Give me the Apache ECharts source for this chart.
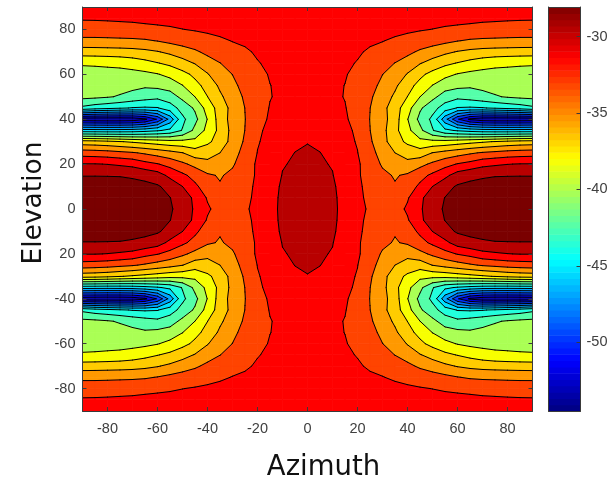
<!DOCTYPE html>
<html><head><meta charset="utf-8">
<style>html,body{margin:0;padding:0;background:#fff}#c{width:614px;height:480px}</style>
<script src="https://cdn.jsdelivr.net/npm/echarts@6/dist/echarts.min.js"></script>
</head><body><div id="c"></div>
<script>
// Quadrant; columns are |azimuth| 90,85,...,0, rows are |elevation| 0,5,...,90
const quadrantAz = [90,85,80,75,70,65,60,55,50,45,40,35,30,25,20,15,10,5,0];
const quadrantEl = [0,5,10,15,20,25,30,35,40,45,50,55,60,65,70,75,80,85,90];
const quadrantValues = [
[-28.1,-28.1,-28.15,-28.2,-28.4,-28.7,-29.1,-29.5,-30.3,-31.6,-32.8,-33.7,-34.1,-33.3,-32.5,-31.9,-31.0,-30.6,-30.5],
[-28.2,-28.2,-28.25,-28.35,-28.55,-28.85,-29.3,-29.65,-30.5,-31.7,-33.2,-34.0,-34.35,-33.5,-32.6,-32.0,-31.0,-30.75,-30.65],
[-28.8,-28.8,-28.85,-28.95,-29.15,-29.3,-29.5,-30.2,-31.35,-32.7,-33.9,-34.6,-34.5,-33.6,-32.7,-32.1,-31.1,-30.95,-30.85],
[-29.75,-29.75,-29.76,-29.78,-29.9,-30.1,-30.6,-31.8,-32.7,-33.6,-34.5,-34.85,-34.4,-33.65,-32.85,-32.2,-31.3,-31.15,-31.05],
[-31.3,-31.3,-31.4,-31.6,-31.85,-32.5,-32.95,-33.6,-34.4,-35.2,-35.9,-35.8,-34.9,-33.9,-32.8,-32.3,-31.45,-31.2,-31.12],
[-33.8,-33.9,-34.05,-34.3,-34.55,-34.95,-35.4,-35.85,-36.35,-37.3,-37.1,-36.4,-35.2,-34.3,-33.0,-32.4,-31.85,-31.33,-31.25],
[-37.4,-37.5,-37.7,-38.0,-38.3,-38.6,-38.9,-39.2,-39.3,-39.3,-38.4,-37.4,-35.8,-34.5,-33.15,-32.6,-32.1,-31.7,-31.39],
[-45.75,-45.8,-45.85,-45.8,-45.7,-45.4,-45.0,-44.4,-43.0,-41.0,-39.3,-37.6,-35.9,-34.7,-33.25,-32.75,-32.3,-32.0,-31.9],
[-54.3,-54.4,-54.45,-54.45,-54.3,-53.5,-51.3,-47.5,-43.5,-41.9,-39.7,-37.3,-35.8,-34.75,-33.6,-32.85,-32.6,-32.4,-32.3],
[-43.5,-44.0,-44.3,-44.6,-44.9,-45.0,-44.9,-43.9,-42.5,-41.2,-39.1,-37.3,-35.9,-34.7,-33.7,-32.97,-32.5,-32.35,-32.3],
[-41.0,-41.1,-41.3,-41.6,-42.0,-42.4,-42.7,-42.2,-41.0,-39.75,-38.1,-36.7,-35.5,-34.5,-33.45,-33.09,-32.8,-32.5,-32.45],
[-40.4,-40.5,-40.6,-40.8,-41.0,-41.2,-41.0,-40.7,-39.8,-38.6,-37.5,-36.1,-35.1,-34.2,-33.4,-33.06,-32.8,-32.55,-32.5],
[-40.3,-40.3,-40.3,-40.35,-40.3,-40.15,-39.85,-39.3,-38.6,-37.7,-36.5,-35.5,-34.7,-33.9,-33.4,-32.95,-32.65,-32.55,-32.5],
[-39.6,-39.55,-39.45,-39.3,-39.0,-38.6,-38.15,-37.7,-37.0,-36.3,-35.5,-34.75,-34.1,-33.55,-33.1,-32.85,-32.65,-32.55,-32.5],
[-37.24,-37.2,-37.15,-37.1,-37.0,-36.8,-36.5,-36.05,-35.55,-35.0,-34.3,-33.8,-33.4,-33.2,-32.9,-32.75,-32.65,-32.55,-32.5],
[-35.14,-35.13,-35.1,-35.05,-35.0,-34.9,-34.65,-34.3,-33.95,-33.65,-33.4,-33.2,-33.0,-32.85,-32.75,-32.7,-32.6,-32.55,-32.5],
[-33.7,-33.7,-33.65,-33.6,-33.55,-33.4,-33.3,-33.2,-33.06,-32.95,-32.85,-32.75,-32.7,-32.65,-32.6,-32.55,-32.55,-32.5,-32.5],
[-32.9,-32.88,-32.85,-32.8,-32.75,-32.7,-32.65,-32.6,-32.55,-32.55,-32.5,-32.5,-32.5,-32.5,-32.5,-32.5,-32.5,-32.5,-32.5],
[-32.6,-32.6,-32.58,-32.55,-32.52,-32.5,-32.5,-32.48,-32.48,-32.45,-32.45,-32.45,-32.45,-32.45,-32.45,-32.45,-32.45,-32.45,-32.45]
];
const contourLevels = [-53.2,-51.52,-49.84,-48.16,-46.48,-44.8,-43.12,-41.44,-39.76,-38.08,-36.4,-34.72,-33.04,-31.36,-29.68];
const bandColors = ['#00009f','#0000e0','#0030ff','#0070ff','#00a8ff','#00e0ff','#22ffdd','#55ffaa','#aaff55','#f8ff00','#ffcc00','#ff9900','#ff4400','#ff0000','#b80000','#7a0000'];
const xTicks = [-80,-60,-40,-20,0,20,40,60,80];
const yTicks = [80,60,40,20,0,-20,-40,-60,-80];
const yTickLabels = ['80','60','40','20','0','20','-40','-60','-80'];
const barTicks = [-50,-45,-40,-35,-30];
const barMin = -54.5, barMax = -28.06;
const barSteps = 64;

// Mirror the quadrant into the full azimuth/elevation grid
const azAxis = quadrantAz.map(a=>-a).concat(quadrantAz.slice(0,-1).reverse());
const elAxis = quadrantEl.slice(1).reverse().map(e=>-e).concat(quadrantEl);
function gridValue(i,j){
  const ci = azAxis[i]<=0 ? i : azAxis.length-1-i;
  const ri = Math.abs(elAxis[j])/5;
  return quadrantValues[ri][ci];
}
const cells=[];
for(let j=0;j<elAxis.length-1;j++)for(let i=0;i<azAxis.length-1;i++){
  cells.push([azAxis[i],elAxis[j],azAxis[i+1],elAxis[j+1],gridValue(i,j),gridValue(i+1,j),gridValue(i+1,j+1),gridValue(i,j+1)]);
}
function clipPoly(p,level,keepAbove){
  const out=[];
  for(let i=0;i<p.length;i++){
    const a=p[i],b=p[(i+1)%p.length];
    const ia=keepAbove?a[2]>=level:a[2]<=level, ib=keepAbove?b[2]>=level:b[2]<=level;
    if(ia)out.push(a);
    if(ia!==ib){const t=(level-a[2])/(b[2]-a[2]);out.push([a[0]+t*(b[0]-a[0]),a[1]+t*(b[1]-a[1]),level]);}
  }
  return out;
}
function cellCorners(api){
  const x0=api.value(0),y0=api.value(1),x1=api.value(2),y1=api.value(3);
  return [[x0,y0,api.value(4)],[x1,y0,api.value(5)],[x1,y1,api.value(6)],[x0,y1,api.value(7)]];
}
function renderFill(params,api){
  const q=cellCorners(api),children=[];
  for(let k=0;k<bandColors.length;k++){
    const lo=k===0?-Infinity:contourLevels[k-1],hi=k===contourLevels.length?Infinity:contourLevels[k];
    let p=q;
    if(isFinite(lo))p=clipPoly(p,lo,true);
    if(p.length&&isFinite(hi))p=clipPoly(p,hi,false);
    if(p.length>=3)children.push({type:'polygon',shape:{points:p.map(v=>api.coord([v[0],v[1]]))},
      style:{fill:bandColors[k],stroke:bandColors[k],lineWidth:0.7},silent:true});
  }
  return {type:'group',children};
}
function renderLines(params,api){
  const q=cellCorners(api),children=[];
  const avg=(q[0][2]+q[1][2]+q[2][2]+q[3][2])/4;
  contourLevels.forEach(level=>{
    const pts=[];
    for(let i=0;i<4;i++){
      const a=q[i],b=q[(i+1)%4];
      if((a[2]<level)!==(b[2]<level)){
        const t=(level-a[2])/(b[2]-a[2]);
        pts.push([i,api.coord([a[0]+t*(b[0]-a[0]),a[1]+t*(b[1]-a[1])])]);
      }
    }
    const seg=(u,v)=>children.push({type:'line',shape:{x1:u[0],y1:u[1],x2:v[0],y2:v[1]},style:{stroke:'#000',lineWidth:1,lineCap:'round'},silent:true});
    if(pts.length===2)seg(pts[0][1],pts[1][1]);
    else if(pts.length===4){
      if((q[0][2]<level)===(avg<level)){seg(pts[0][1],pts[1][1]);seg(pts[2][1],pts[3][1]);}
      else{seg(pts[1][1],pts[2][1]);seg(pts[3][1],pts[0][1]);}
    }
  });
  return {type:'group',children};
}
function jet(t){
  const c=v=>Math.round(255*Math.max(0,Math.min(1,v)));
  return 'rgb('+c(Math.min(4*t-1.5,-4*t+4.5))+','+c(Math.min(4*t-0.5,-4*t+3.5))+','+c(Math.min(4*t+0.5,-4*t+2.5))+')';
}
const barData=[];
for(let i=0;i<barSteps;i++){
  barData.push([barMin+(barMax-barMin)*i/barSteps,barMin+(barMax-barMin)*(i+1)/barSteps,(i+0.5)/barSteps]);
}
const axisColor='#3a3a3a';
const labelStyle={fontFamily:'Liberation Sans',fontSize:14.5,color:'#404040'};
const line={show:true,lineStyle:{color:axisColor,width:1}};
const inTick=(vals)=>({show:true,inside:true,length:4,customValues:vals,lineStyle:{color:axisColor,width:1}});
const main={min:-90,max:90,splitLine:{show:false},axisLine:{...line,onZero:false},z:5};
const chart=echarts.init(document.getElementById('c'),null,{renderer:'canvas'});
chart.setOption({
  animation:false,
  grid:[{left:82.5,top:7,width:450,height:404},{left:548.5,top:7,width:32,height:404}],
  xAxis:[
    {...main,type:'value',gridIndex:0,position:'bottom',axisTick:inTick(xTicks),
      axisLabel:{...labelStyle,show:true,margin:10,customValues:xTicks,hideOverlap:false}},
    {...main,type:'value',gridIndex:0,position:'top',axisTick:inTick(xTicks),axisLabel:{show:false}},
    {type:'value',gridIndex:1,min:0,max:1,position:'bottom',axisLine:{...line,onZero:false},axisTick:{show:false},axisLabel:{show:false},splitLine:{show:false},z:5},
    {type:'value',gridIndex:1,min:0,max:1,position:'top',axisLine:{...line,onZero:false},axisTick:{show:false},axisLabel:{show:false},splitLine:{show:false},z:5}
  ],
  yAxis:[
    {...main,type:'value',gridIndex:0,position:'left',axisTick:inTick(yTicks),
      axisLabel:{...labelStyle,show:true,margin:7,padding:[2,0,0,0],customValues:yTicks,
        formatter:v=>{const i=yTicks.indexOf(Math.round(v));return i>=0?yTickLabels[i]:'';}}},
    {...main,type:'value',gridIndex:0,position:'right',axisTick:inTick(yTicks),axisLabel:{show:false}},
    {type:'value',gridIndex:1,min:barMin,max:barMax,position:'right',axisLine:{...line,onZero:false},splitLine:{show:false},z:5,
      axisTick:inTick(barTicks),axisLabel:{...labelStyle,show:true,margin:6,padding:[2,0,0,0],customValues:barTicks}},
    {type:'value',gridIndex:1,min:barMin,max:barMax,position:'left',axisLine:{...line,onZero:false},axisTick:{show:false},axisLabel:{show:false},splitLine:{show:false},z:5}
  ],
  series:[
    {type:'custom',name:'fill',xAxisIndex:0,yAxisIndex:0,data:cells,renderItem:renderFill,silent:true,z:2,clip:true,encode:{x:[0,2],y:[1,3]}},
    {type:'custom',name:'contours',xAxisIndex:0,yAxisIndex:0,data:cells,renderItem:renderLines,silent:true,z:3,clip:true,encode:{x:[0,2],y:[1,3]}},
    {type:'custom',name:'colorbar',xAxisIndex:2,yAxisIndex:2,data:barData,silent:true,z:2,clip:true,encode:{y:[0,1]},
      renderItem:(p,api)=>{
        const a=api.coord([0,api.value(0)]),b=api.coord([1,api.value(1)]);
        return {type:'rect',shape:{x:a[0],y:b[1],width:b[0]-a[0],height:a[1]-b[1]+0.6},style:{fill:jet(api.value(2))},silent:true};
      }}
  ],
  graphic:[
    {type:'text',x:323.5,y:468,style:{text:'Azimuth',font:'27.5px "DejaVu Sans"',fill:'#111',align:'center',verticalAlign:'middle'},silent:true},
    {type:'text',x:34,y:203,rotation:Math.PI/2,style:{text:'Elevation',font:'26.5px "DejaVu Sans"',fill:'#111',align:'center',verticalAlign:'middle'},silent:true}
  ]
});
</script></body></html>
